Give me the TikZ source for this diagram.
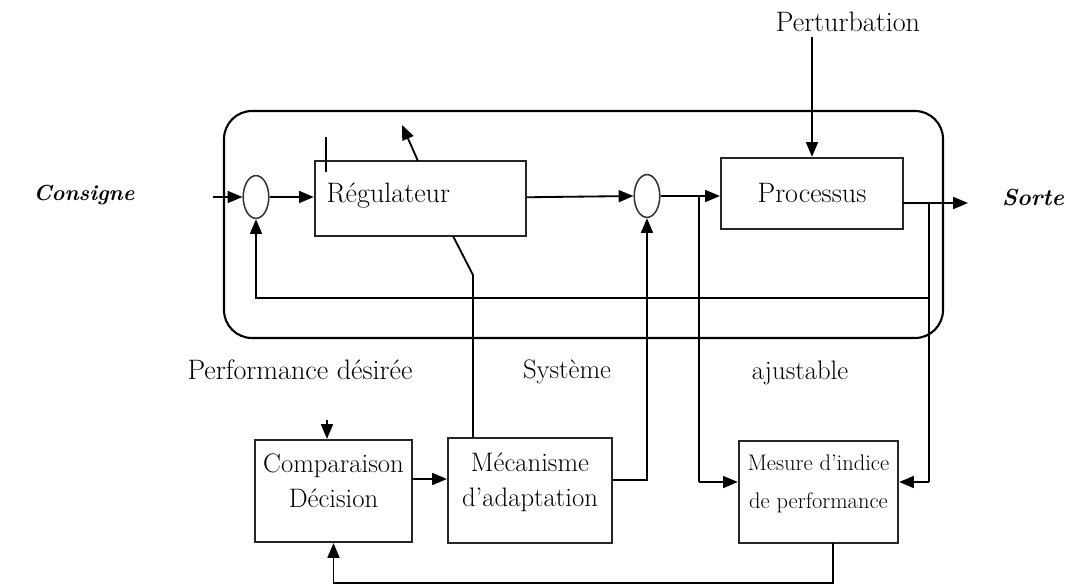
\documentclass[tikz,border=0pt]{standalone}
\usepackage{tikz}
\usetikzlibrary{arrows.meta,shapes.geometric}

\begin{document}
\begin{tikzpicture}[x=0.025cm, y=-0.025cm, >={Triangle[length=10.5pt,width=8.5pt]},
  line width=1.3pt, font=\fontsize{19}{25}\selectfont,
  blk/.style={draw=black!85, rectangle, line width=1.5pt, align=center, inner sep=2pt},
  sum/.style={draw=black!80, ellipse, line width=1.1pt, minimum width=0.64cm, minimum height=1.07cm, inner sep=0pt},
  lbl/.style={font=\fontsize{16.5}{19}\selectfont\bfseries\itshape}]
  \useasboundingbox (0,0) rectangle (1068,587);

  % The adjustable system
  \draw [line width=1.5pt, rounded corners=0.7cm] (224,111) rectangle (943,338);

  % Inputs and outputs
  \node [lbl, font=\fontsize{15.5}{18}\selectfont\bfseries\itshape] (cons) at (84,195) {Consigne};
  \node [lbl] (sorte) at (1033,198) {Sorte};
  \node [font=\fontsize{20}{24}\selectfont] (pert) at (848,22) {Perturbation};

  % The comparators
  \node [sum] (s1) at (256,197) {};
  \node [sum] (s2) at (647,196) {};

  % The blocks of the loop
  \node [blk, minimum width=5.28cm, minimum height=1.88cm] (reg) at (420.5,198.5) {};
  \node [anchor=west, font=\fontsize{20}{24}\selectfont] (regt) at (321,196) {Régulateur};
  \node [blk, minimum width=4.55cm, minimum height=1.78cm, font=\fontsize{20}{24}\selectfont] (proc) at (812,193.5) {Processus};

  % The adaptation blocks
  \node [blk, minimum width=3.93cm, minimum height=2.55cm] (comp) at (333.5,491) {Comparaison\\Décision\\[-10pt]\mbox{}};
  \node [blk, minimum width=4.1cm, minimum height=2.63cm] (meca) at (530,490.5) {Mécanisme\\d'adaptation\\[-10pt]\mbox{}};
  \node [blk, minimum width=3.98cm, minimum height=2.55cm, font=\fontsize{16}{27}\selectfont] (mes) at (818.5,492) {Mesure d'indice\\de performance\\[-12pt]\mbox{}};

  % Texts under the system
  \node [font=\fontsize{20}{24}\selectfont] (perf) at (300,370) {Performance désirée};
  \node (syst) at (567,372) {Système};
  \node (ajust) at (800,373) {ajustable};

  % Points of the connectors
  \coordinate (ci) at (213,197);
  \coordinate (b1) at (699,197);
  \coordinate (m1) at (699,482);
  \coordinate (po) at (903,203);
  \coordinate (oe) at (968,203);
  \coordinate (b2) at (929,203);
  \coordinate (fb) at (929,298);
  \coordinate (m2) at (929,482);
  \coordinate (ra) at (453,236);
  \coordinate (rb) at (473,275);
  \coordinate (rc) at (418,161);
  \coordinate (rd) at (402,125);
  \coordinate (ma) at (612,480);
  \coordinate (ca) at (412,479);
  \coordinate (ct) at (327,420);
  \coordinate (mb) at (833,543);
  \coordinate (lb) at (833,583);

  % The main loop
  \draw [->] (ci) -- (s1.west);
  \draw [->] (s1) -- (s1 -| reg.west);
  \draw [->] (reg) -- (s2.west);
  \draw [->] (s2) -- (s2 -| proc.west);
  \draw [->] (pert.south -| proc.north) -- (proc.north);
  \draw [->] (po) -- (oe);
  \draw [->] (fb) -| (s1.south);

  % The adjusted parameter of the controller
  \draw (326,137) -- (326,172);
  \draw [->] (rc) -- (rd);
  \draw (ra) -- (rb) -- (rb |- meca.north);

  % The adaptation loop
  \draw (b1) -- (m1);
  \draw [->] (m1) -- (m1 -| mes.west);
  \draw (b2) -- (m2);
  \draw [->] (m2) -- (m2 -| mes.east);
  \draw [->] (mb) -- (lb) -| (comp.south);
  \draw [->] (ct) -- (ct |- comp.north);
  \draw [->] (ca) -- (ca -| meca.west);
  \draw [->] (ma) -| (s2.south);
\end{tikzpicture}
\end{document}
